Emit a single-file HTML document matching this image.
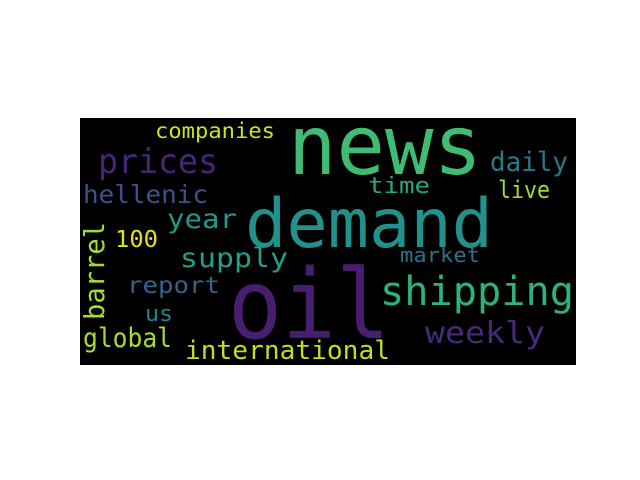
<!DOCTYPE html>
<html><head><meta charset="utf-8"><style>
html,body{margin:0;padding:0;background:#fff;width:640px;height:480px;overflow:hidden}
svg text{font-family:"DejaVu Sans Mono","Liberation Mono",monospace}
</style></head><body>
<svg width="640" height="480">
<rect x="80" y="118" width="496" height="247" fill="#000"/>
<g id="words"></g>
</svg>
<script>
const words = ["news","demand","oil","shipping","weekly","international","global","us","report","barrel","100","supply","year","hellenic","prices","companies","daily","time","live","market"];
const sizes = [82,68,96,40,30,26,27,22,23,28,23,27,27,25,34,21,27,22,24,20];
const colors = ["#3fbc73","#21918c","#481f70","#2db27d","#472a7a","#bddf26","#a5db36","#25858e","#33638d","#a5db36","#dde318","#23a08a","#1f9a8a","#3b528b","#482677","#d0e11c","#2a788e","#22a884","#9fda3a","#2c728e"];
// layout: x, baseline y, width
const lx = [288,245,228,380,425,185,83,145,127,104,115,180,167,83,98,155,490,368,498,400];
const ly = [174,247,338,305,343,359,347,321,293,320,247,267,228,203,173,138,171,193,198,262];
const lw = [194,248,162,194,120,205,89,28,93,98,43,108,70,125,120,120,78,62,52,80];
const rot = [0,0,0,0,0,0,0,0,0,1,0,0,0,0,0,0,0,0,0,0];
const g = document.getElementById('words');
const NS = "http://www.w3.org/2000/svg";
for (let i = 0; i < words.length; i++) {
  const t = document.createElementNS(NS, 'text');
  
  
  t.setAttribute('x', lx[i]);
  t.setAttribute('y', ly[i]);
  t.setAttribute('font-size', sizes[i]);
  t.setAttribute('fill', colors[i]);
  t.setAttribute('textLength', lw[i]);
  t.setAttribute('lengthAdjust', 'spacingAndGlyphs');
  if (rot[i]) t.setAttribute('transform', 'rotate(-90 ' + lx[i] + ' ' + ly[i] + ')');
  t.textContent = words[i];
  g.appendChild(t);
}
</script>
</body></html>
